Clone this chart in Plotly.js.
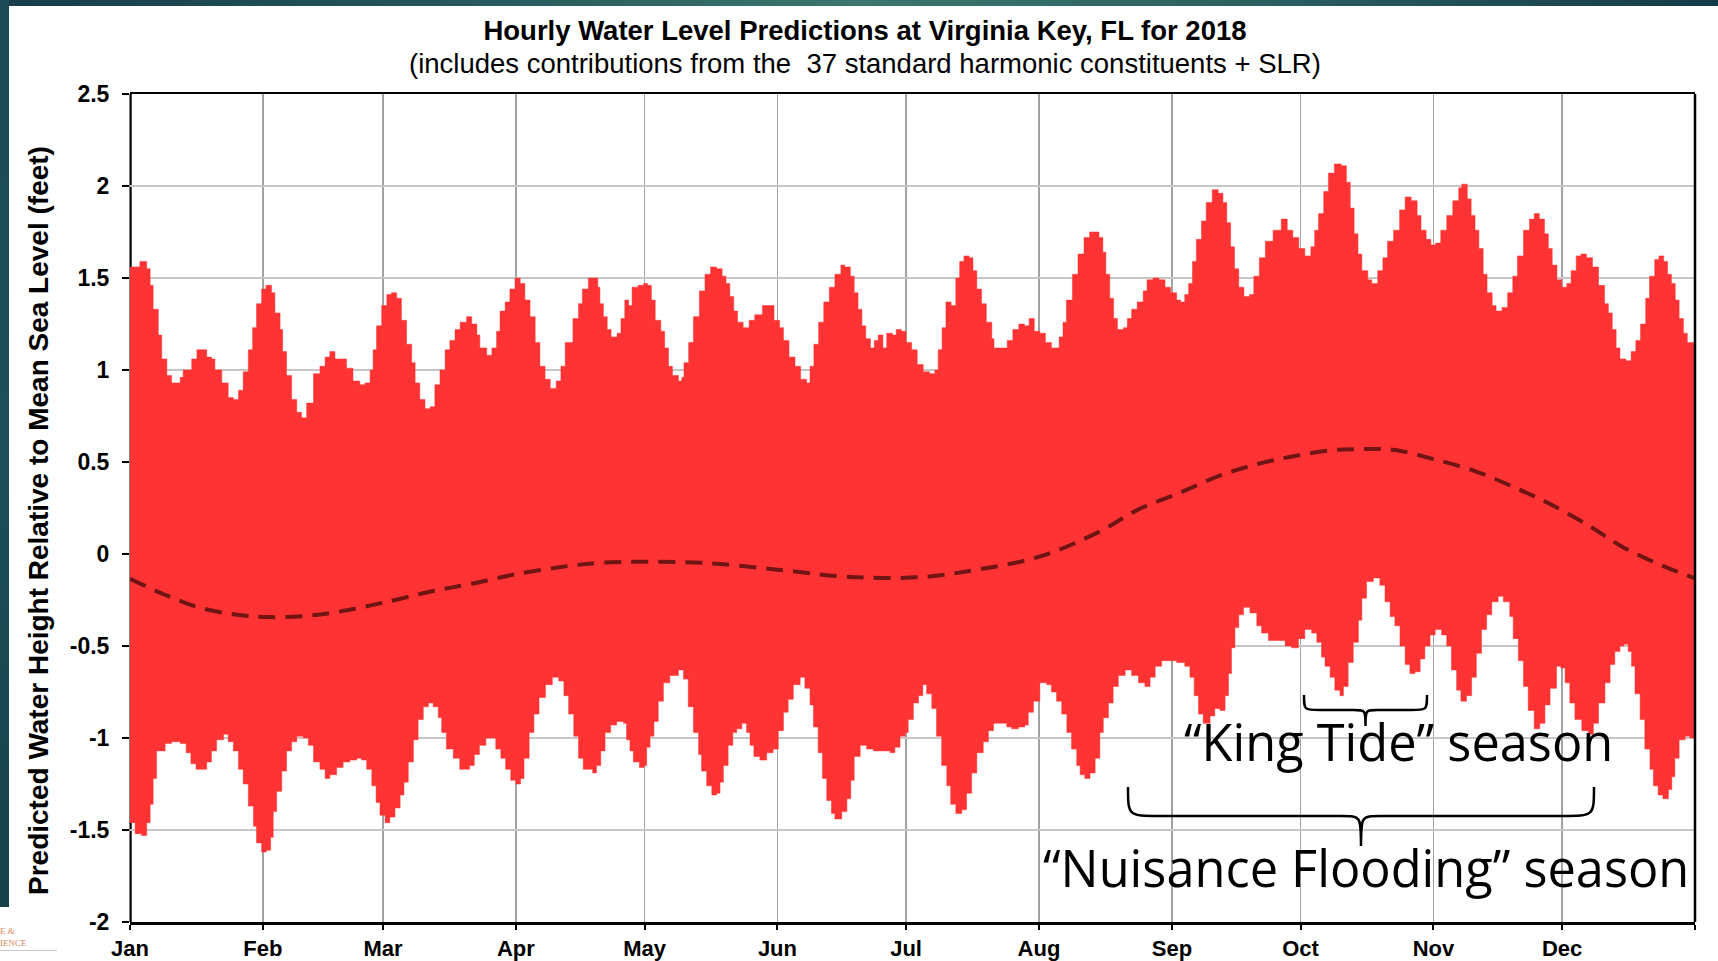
<!DOCTYPE html>
<html>
<head>
<meta charset="utf-8">
<script src="https://cdn.plot.ly/plotly-3.0.1.min.js"></script>
<style>
  html, body { margin: 0; padding: 0; background: #ffffff; }
  #chart { position: absolute; left: 0; top: 0; width: 1718px; height: 961px; }
  .deco { position: absolute; pointer-events: none; z-index: 5; }
  #topband { left: 0; top: 0; width: 1718px; height: 6px;
    background: linear-gradient(to right, #163d48 0%, #24555b 25%, #3b776d 50%, #2c6162 72%, #153b46 100%); }
  #leftband { left: 0; top: 0; width: 9px; height: 907px;
    background: linear-gradient(to bottom, #1c4a55 0%, #1d5059 50%, #17404b 100%); }
  #logo1 { left: 0; top: 926px; font: 9px "Liberation Serif", serif; color: #d98a55; }
  #logo2 { left: 0; top: 938px; font: 9px "Liberation Serif", serif; color: #d98a55; }
  #logoline { left: 0; top: 950px; width: 57px; height: 1px; background: #c9c9c9; }
</style>
</head>
<body>
<div id="chart"></div>
<div id="topband" class="deco"></div>
<div id="leftband" class="deco"></div>
<div id="logo1" class="deco">E &amp;</div>
<div id="logo2" class="deco">IENCE</div>
<div id="logoline" class="deco"></div>
<script>
// ---------------- DATA ----------------
// Day of year 2018 (0 = Jan 1 00:00) and water level in feet relative to MSL

// Upper envelope (daily high waters)
const upperDay = [0,2.3,3.9,4.7,5.4,6.6,7.4,8.6,9.7,11.7,12.4,14.4,15.6,16.7,17.9,19,19.8,21.4,22.9,24.1,25.3,26.4,27.6,28.6,29.5,30.7,31.7,33,33.8,35,35.6,36.5,37.7,38.9,40,41.2,42.8,44.3,45.5,46.6,47.8,49,50.5,52,53.6,54.8,56,56.7,57.5,58.7,59.9,61,62.2,63.3,64.5,65.7,66.5,67.6,68.8,70,71.1,72.3,73.5,74.6,75.8,77,78.5,79.7,80.9,81.6,83.2,84.4,85.5,86.3,87.5,88.6,89.8,91,92.1,93.3,94.5,95.6,96.8,98,99.4,100.5,101.5,103.3,104.6,105.5,106.9,108.2,109.1,109.6,110.4,111.3,112.2,113.6,114.5,115.4,116.3,117.1,118.5,119.8,120.7,121.6,122.5,123.8,124.7,125.6,126.5,127.9,128.7,129.2,130.3,131.4,132.8,134.1,135.4,136.8,138.1,139,139.9,140.8,141.7,143,144.4,145.7,147.5,148.8,150.2,151.5,152.4,153.7,155.1,156.4,157.8,158.6,159.5,160.6,161.8,163.1,164.4,165.8,166.7,168,168.9,169.8,170.7,171.6,172.7,173.6,174.5,175.6,176.5,177.8,178.7,179.9,181,182.3,183.6,185,186.5,187.7,188.5,189.4,190.3,191.5,192.6,193.5,194.5,195.7,196.6,197.5,198.6,199.7,201,201.5,203.3,204.6,205.9,207.3,208.6,209.7,210.9,212.2,213.5,214.9,215.8,216.7,217.6,218.4,219.8,221.1,222.5,223.8,224.9,226,226.9,227.6,228.5,229.4,230.3,231.7,232.6,233.6,234.9,236.3,237.2,238.6,240,241.4,242.7,244.1,245,246,246.9,247.8,248.7,249.9,251,252.4,253.8,254.9,255.8,256.7,257.6,258.6,259.8,261.1,262.1,263.4,264.8,266.6,268.5,269.9,271.2,272.6,274,275.4,276.3,277.2,278.4,279.5,280.9,282.5,283.7,284.6,285.5,286.4,287.3,288.7,289.6,291,292.2,293.3,294.7,296.1,297.4,298.8,300.2,301.1,302.3,303.4,304.5,305.7,307.1,308.5,309.9,310.6,311.9,312.8,313.7,314.6,315.6,316.5,317.7,318.6,320,321.3,322.5,323.6,325,326.4,327.5,328.7,329.9,330.8,331.7,332.8,333.9,335.1,336.1,337.3,338.4,339.7,341.1,342.5,343.9,344.8,345.7,346.6,347.5,348.9,350.1,351.2,352.3,353.5,354.4,355.6,356.6,357.7,358.6,359.5,360.4,361.3,362.3,363.2,365];
const upperFt = [1.56,1.59,1.55,1.46,1.33,1.19,1.06,0.97,0.93,0.96,1.00,1.06,1.11,1.11,1.07,1.06,1.00,0.93,0.85,0.84,0.89,0.99,1.11,1.23,1.36,1.44,1.46,1.42,1.31,1.22,1.10,0.97,0.84,0.77,0.74,0.82,0.98,1.02,1.07,1.10,1.06,1.06,1.01,0.94,0.92,0.93,1.00,1.11,1.24,1.35,1.41,1.42,1.39,1.27,1.14,1.04,0.93,0.84,0.79,0.80,0.92,1.00,1.11,1.16,1.22,1.26,1.29,1.25,1.19,1.12,1.08,1.12,1.21,1.32,1.37,1.44,1.50,1.47,1.38,1.29,1.15,1.02,0.95,0.90,0.94,1.02,1.15,1.28,1.36,1.44,1.50,1.50,1.45,1.36,1.29,1.22,1.18,1.20,1.28,1.38,1.35,1.45,1.46,1.47,1.46,1.38,1.27,1.21,1.12,1.02,0.97,0.94,0.96,1.04,1.15,1.29,1.43,1.52,1.56,1.55,1.51,1.47,1.40,1.32,1.26,1.23,1.27,1.30,1.35,1.35,1.27,1.23,1.16,1.07,1.02,0.95,0.93,1.02,1.14,1.26,1.37,1.45,1.52,1.57,1.56,1.51,1.42,1.33,1.24,1.17,1.12,1.16,1.19,1.12,1.20,1.19,1.22,1.21,1.15,1.11,1.03,0.99,0.98,1.00,1.11,1.23,1.37,1.35,1.50,1.59,1.62,1.61,1.54,1.44,1.36,1.26,1.17,1.12,1.12,1.16,1.22,1.25,1.24,1.28,1.21,1.20,1.15,1.12,1.12,1.18,1.26,1.38,1.52,1.63,1.72,1.75,1.75,1.72,1.64,1.52,1.39,1.28,1.22,1.23,1.28,1.33,1.37,1.43,1.49,1.50,1.49,1.45,1.42,1.38,1.37,1.41,1.47,1.59,1.71,1.81,1.91,1.98,1.96,1.91,1.80,1.67,1.55,1.45,1.40,1.41,1.51,1.61,1.70,1.76,1.82,1.76,1.72,1.66,1.62,1.67,1.76,1.85,1.97,2.07,2.12,2.11,2.02,1.88,1.74,1.63,1.54,1.49,1.47,1.54,1.61,1.70,1.76,1.87,1.94,1.92,1.84,1.76,1.71,1.68,1.69,1.76,1.84,1.92,1.99,2.01,1.93,1.84,1.76,1.66,1.52,1.42,1.35,1.32,1.34,1.42,1.51,1.62,1.76,1.82,1.85,1.82,1.74,1.66,1.57,1.49,1.45,1.47,1.54,1.62,1.63,1.61,1.56,1.46,1.36,1.31,1.22,1.12,1.06,1.05,1.10,1.16,1.25,1.39,1.51,1.60,1.62,1.59,1.52,1.47,1.38,1.28,1.20,1.15,1.14];

// Lower envelope (daily low waters)
const lowerDay = [0,1.2,2.7,3.9,4.7,5.4,6.2,7,8.2,9.7,11.7,13.1,14.2,15.4,16.7,17.9,19,20.2,21.8,22.9,24.1,25.3,26.4,27.6,28.8,29.5,30.7,31.8,32.8,33.4,34.2,35.4,36.5,37.7,38.9,40.4,41.6,42.8,44.3,45.5,46.6,48.2,49.7,51.3,52.9,54,55.2,56.4,57.4,58.3,59.5,60.6,61.8,63,63.9,64.9,66.1,67.2,68.4,69.6,70.7,71.9,72.7,73.8,75.4,76.9,78,79.2,80.3,81.5,83,84.2,85.3,86.5,87.6,88.8,90,91.1,91.9,93.1,94.2,95.4,96.9,98.5,100,101.2,102.3,103.5,104.6,105.7,107.9,108.8,109.8,110.8,112.1,113.5,115.1,115.8,116.6,117.4,118.8,119.9,120.5,121.3,122.2,123.2,124.4,125.9,127.9,129.1,130.2,131.4,132.6,133.3,134.5,135.7,136.8,137.6,138.4,139.5,140.6,141.5,142.7,143.8,144.6,145.5,146.9,148.5,150,151.2,152.4,153.5,154.7,156.3,157.4,158.6,159.4,160.5,161.5,162.5,163.6,164.4,166,167.2,168.1,168.9,170.3,171.8,173.4,174.9,176.1,177.3,178.4,179.6,180.8,181.5,182.7,183.9,184.9,185.8,187,188.1,189.3,190.5,191.4,192.6,194,195.1,196.3,197.5,199,200.2,201.4,202.9,204.5,205.6,207.2,208.7,209.5,210.7,212.2,213.8,214.9,216.1,217.3,218.5,219.6,220.8,221.6,222.7,223.9,225.1,226.2,227,228.2,229.3,230.5,232.1,233.6,235.2,236.7,237.9,239.1,240.6,242.2,244.1,246,247.2,248.2,249.2,250.3,251.9,253,254.2,255.4,256.2,256.9,257.7,258.6,259.7,261.2,262.8,263.9,265.5,267.4,269.4,270.9,272.5,274,275.6,276.8,277.9,278.7,279.9,281,282.2,283,284.1,285.3,286.5,287.3,288.4,290,291.5,292.7,293.9,295,296.2,297.4,298.5,299.7,300.9,302,303.2,304.4,305.9,307.1,308.2,309.4,310.4,311.7,312.9,314,315.2,316.4,317.6,319.1,320.3,321.8,322.6,323.8,325,326.1,327.5,328.8,330,331.2,332.7,333.7,334.7,335.8,337,338.6,340.1,341.3,342.5,344,345.2,346.3,347.5,348.4,349.4,350.2,351,352.2,353.3,354.5,355.3,356.4,357.5,358.8,359.6,360.3,361.3,362.7,363.8,365];
const lowerFt = [-1.46,-1.52,-1.53,-1.46,-1.36,-1.22,-1.07,-1.07,-1.03,-1.02,-1.03,-1.08,-1.14,-1.17,-1.17,-1.13,-1.07,-1.01,-0.98,-1.02,-1.07,-1.17,-1.25,-1.37,-1.48,-1.57,-1.62,-1.61,-1.54,-1.40,-1.29,-1.18,-1.07,-1.02,-0.99,-1.00,-1.04,-1.13,-1.17,-1.22,-1.20,-1.16,-1.13,-1.12,-1.11,-1.12,-1.17,-1.26,-1.35,-1.42,-1.46,-1.43,-1.38,-1.31,-1.24,-1.13,-1.01,-0.90,-0.83,-0.81,-0.83,-0.89,-0.97,-1.06,-1.11,-1.17,-1.17,-1.15,-1.09,-1.04,-1.00,-1.00,-1.06,-1.11,-1.17,-1.23,-1.25,-1.22,-1.11,-0.97,-0.87,-0.78,-0.71,-0.67,-0.69,-0.77,-0.87,-0.99,-1.11,-1.17,-1.19,-1.15,-1.07,-0.97,-0.93,-0.91,-0.92,-1.01,-1.07,-1.13,-1.16,-1.15,-1.05,-0.99,-0.91,-0.80,-0.70,-0.66,-0.63,-0.68,-0.83,-0.97,-1.09,-1.18,-1.26,-1.31,-1.30,-1.24,-1.15,-1.04,-0.97,-0.95,-0.92,-0.97,-1.04,-1.10,-1.12,-1.08,-1.06,-0.96,-0.86,-0.79,-0.71,-0.67,-0.73,-0.82,-0.94,-1.08,-1.22,-1.34,-1.41,-1.44,-1.40,-1.33,-1.23,-1.10,-1.04,-1.06,-1.07,-1.07,-1.07,-1.08,-1.05,-0.99,-0.97,-0.90,-0.81,-0.77,-0.71,-0.76,-0.84,-0.99,-1.15,-1.26,-1.36,-1.41,-1.39,-1.30,-1.19,-1.08,-1.02,-0.96,-0.92,-0.92,-0.94,-0.95,-0.94,-0.93,-0.86,-0.80,-0.70,-0.71,-0.75,-0.80,-0.87,-0.97,-1.06,-1.15,-1.20,-1.22,-1.19,-1.11,-0.97,-0.89,-0.81,-0.72,-0.66,-0.63,-0.66,-0.70,-0.72,-0.67,-0.61,-0.58,-0.58,-0.59,-0.61,-0.67,-0.77,-0.87,-0.92,-0.88,-0.84,-0.85,-0.77,-0.65,-0.51,-0.40,-0.33,-0.29,-0.32,-0.39,-0.43,-0.47,-0.47,-0.50,-0.51,-0.46,-0.41,-0.43,-0.48,-0.56,-0.61,-0.67,-0.74,-0.77,-0.72,-0.59,-0.48,-0.36,-0.24,-0.15,-0.13,-0.17,-0.26,-0.34,-0.39,-0.50,-0.60,-0.65,-0.64,-0.57,-0.50,-0.44,-0.41,-0.44,-0.50,-0.63,-0.74,-0.80,-0.77,-0.67,-0.54,-0.41,-0.33,-0.26,-0.23,-0.26,-0.34,-0.46,-0.58,-0.72,-0.85,-0.95,-0.92,-0.82,-0.73,-0.61,-0.62,-0.70,-0.81,-0.90,-0.96,-0.98,-0.92,-0.81,-0.70,-0.60,-0.53,-0.50,-0.49,-0.53,-0.61,-0.76,-0.90,-1.06,-1.17,-1.26,-1.31,-1.33,-1.28,-1.21,-1.11,-1.01,-0.99,-1.00,-1.02];

// Seasonal mean water level (dashed curve)
const meanDay = [0,8,16,25,32,40,48,59,71,79,90,102,110,120,135,151,165,175,185,195,212,226,235,245,254,263,272,281,288,295,304,313.5,323,332,341,348,356,365];
const meanFt  = [-0.135,-0.22,-0.29,-0.33,-0.343,-0.338,-0.316,-0.265,-0.20,-0.165,-0.11,-0.066,-0.047,-0.042,-0.05,-0.085,-0.12,-0.13,-0.125,-0.095,-0.015,0.12,0.24,0.334,0.425,0.489,0.534,0.565,0.57,0.565,0.516,0.452,0.361,0.262,0.143,0.04,-0.05,-0.133];

// Axis ticks
const monthTickDates = ['2018-01-01','2018-02-01','2018-03-01','2018-04-01','2018-05-01','2018-06-01','2018-07-01','2018-08-01','2018-09-01','2018-10-01','2018-11-01','2018-12-01','2019-01-01'];
const monthLabels = ['Jan','Feb','Mar','Apr','May','Jun','Jul','Aug','Sep','Oct','Nov','Dec',''];
const yTickVals = [-2,-1.5,-1,-0.5,0,0.5,1,1.5,2,2.5];
const yTickText = ['-2','-1.5','-1','-0.5','0','0.5','1','1.5','2','2.5'];

// ---------------- helpers ----------------
function dayToDate(d) {
  const s = new Date(Date.UTC(2018, 0, 1) + d * 86400000).toISOString();
  return s.slice(0, 10) + ' ' + s.slice(11, 19);
}
// plot area in pixels: x 130..1695, y 94..922
const PL = 130, PR = 1695, PT = 94, PB = 922;
const px = v => (v - PL) / (PR - PL);
const py = v => (PB - v) / (PB - PT);

function bracePath(x1, x2, xm, yTop, yMid, yTip, rEnd, rMid) {
  const P = (x, y) => px(x).toFixed(5) + ',' + py(y).toFixed(5);
  return 'M' + P(x1, yTop) +
    ' C' + P(x1, yMid) + ' ' + P(x1, yMid) + ' ' + P(x1 + rEnd, yMid) +
    ' L' + P(xm - rMid, yMid) +
    ' C' + P(xm, yMid) + ' ' + P(xm, yMid) + ' ' + P(xm, yTip) +
    ' C' + P(xm, yMid) + ' ' + P(xm, yMid) + ' ' + P(xm + rMid, yMid) +
    ' L' + P(x2 - rEnd, yMid) +
    ' C' + P(x2, yMid) + ' ' + P(x2, yMid) + ' ' + P(x2, yTop);
}

const RED = 'rgb(255,51,51)';
const AX_FONT = 'Liberation Sans, Arial, sans-serif';
const ANN_FONT = 'Open Sans, Noto Sans, sans-serif';

const traces = [
  { type: 'scatter', mode: 'lines', name: 'Daily low water',
    x: lowerDay.map(dayToDate), y: lowerFt,
    line: { color: RED, width: 0.5, shape: 'hv' }, showlegend: false, hoverinfo: 'x+y' },
  { type: 'scatter', mode: 'lines', name: 'Daily high water',
    x: upperDay.map(dayToDate), y: upperFt, fill: 'tonexty', fillcolor: RED,
    line: { color: RED, width: 0.5, shape: 'hv' }, showlegend: false, hoverinfo: 'x+y' },
  { type: 'scatter', mode: 'lines', name: 'Seasonal mean',
    x: meanDay.map(dayToDate), y: meanFt, line: { color: '#701414', width: 4, dash: '17px,10px', shape: 'spline' },
    showlegend: false, hoverinfo: 'x+y' }
];

const layout = {
  width: 1718, height: 961,
  margin: { l: PL, r: 1718 - PR, t: PT, b: 961 - PB, pad: 0 },
  paper_bgcolor: '#ffffff', plot_bgcolor: '#ffffff',
  showlegend: false,
  title: {
    text: 'Hourly Water Level Predictions at Virginia Key, FL for 2018',
    font: { family: AX_FONT, size: 27.5, color: '#000000', weight: 'bold' },
    x: 865 / 1718, xanchor: 'center', xref: 'container',
    y: 1 - 30 / 961, yanchor: 'middle', yref: 'container'
  },
  xaxis: {
    type: 'date', range: ['2018-01-01', '2019-01-01'],
    tickmode: 'array', tickvals: monthTickDates, ticktext: monthLabels,
    showgrid: true, gridcolor: '#a3a3a3', gridwidth: 1.5,
    showline: true, linecolor: '#000000', linewidth: 2.5, mirror: true,
    ticks: 'outside', ticklen: 5, tickwidth: 2, tickcolor: '#000000',
    tickfont: { family: AX_FONT, size: 22, color: '#000000', weight: 'bold' },
    zeroline: false, fixedrange: true
  },
  yaxis: {
    range: [-2, 2.5], tickmode: 'array', tickvals: yTickVals, ticktext: yTickText,
    showgrid: true, gridcolor: '#c6c6c6', gridwidth: 1.5,
    showline: false,
    ticks: 'outside', ticklen: 7, tickwidth: 2, tickcolor: '#000000',
    ticklabelstandoff: 8,
    tickfont: { family: AX_FONT, size: 23, color: '#000000', weight: 'bold' },
    zeroline: false, fixedrange: true
  },
  shapes: [
    // left frame line sits beneath the water-level fill, right one above it
    { type: 'line', xref: 'paper', yref: 'paper', x0: px(130.6), x1: px(130.6), y0: 0, y1: 1,
      line: { color: '#000000', width: 2.2 }, layer: 'below' },
    { type: 'line', xref: 'paper', yref: 'paper', x0: 1, x1: 1, y0: 0, y1: 1,
      line: { color: '#000000', width: 2.5 }, layer: 'above' },
    { type: 'path', xref: 'paper', yref: 'paper', layer: 'above',
      path: bracePath(1304, 1427, 1365.5, 695, 710, 726, 16, 12),
      line: { color: '#000000', width: 2.5 } },
    { type: 'path', xref: 'paper', yref: 'paper', layer: 'above',
      path: bracePath(1128, 1594, 1361, 787, 816, 846, 32, 20),
      line: { color: '#000000', width: 2.5 } }
  ],
  annotations: [
    { text: '(includes contributions from the  37 standard harmonic constituents + SLR)',
      xref: 'paper', yref: 'paper', x: px(865), y: py(63), xanchor: 'center', yanchor: 'middle',
      showarrow: false, font: { family: AX_FONT, size: 27.5, color: '#000000' } },
    { text: 'Predicted Water Height Relative to Mean Sea Level (feet)',
      xref: 'paper', yref: 'paper', x: px(38), y: py(521), xanchor: 'center', yanchor: 'middle',
      textangle: -90, showarrow: false,
      font: { family: AX_FONT, size: 28, color: '#000000', weight: 'bold' } },
    { text: '\u201CKing Tide\u201D season',
      xref: 'paper', yref: 'paper', x: px(1398), y: py(741), xanchor: 'center', yanchor: 'middle',
      showarrow: false, font: { family: ANN_FONT, size: 50.5, color: '#000000' } },
    { text: '\u201CNuisance Flooding\u201D season',
      xref: 'paper', yref: 'paper', x: px(1366), y: py(867), xanchor: 'center', yanchor: 'middle',
      showarrow: false, font: { family: ANN_FONT, size: 50.5, color: '#000000' } }
  ]
};

Plotly.newPlot('chart', traces, layout, { displayModeBar: false, staticPlot: true });
</script>
</body>
</html>
